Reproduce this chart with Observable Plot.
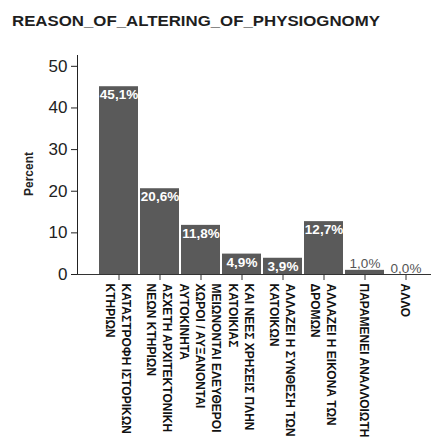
<!DOCTYPE html>
<html><head><meta charset="utf-8">
<script src="https://cdn.jsdelivr.net/npm/d3@7"></script>
<script src="https://cdn.jsdelivr.net/npm/@observablehq/plot@0.6"></script>
<style>
body{margin:0;background:#fff;width:438px;height:442px;overflow:hidden;position:relative;}
#title{position:absolute;left:12px;top:13px;font:bold 14.5px "Liberation Sans",Arial,sans-serif;color:#1e1e1e;white-space:nowrap;transform:scaleX(1.16);transform-origin:0 0;}
#chart{position:absolute;left:0;top:40px;}
#ylabel{position:absolute;left:29px;top:174px;font:bold 12px "Liberation Sans",Arial,sans-serif;color:#222;white-space:nowrap;transform:translate(-50%,-50%) rotate(-90deg);}
</style></head><body>
<div id="title">REASON_OF_ALTERING_OF_PHYSIOGNOMY</div>
<div id="chart"></div>
<div id="ylabel"></div>
<script>
const categories = [
  "ΚΑΤΑΣΤΡΟΦΗ ΙΣΤΟΡΙΚΩΝ\nΚΤΗΡΙΩΝ",
  "ΑΣΧΕΤΗ ΑΡΧΙΤΕΚΤΟΝΙΚΗ\nΝΕΩΝ ΚΤΗΡΙΩΝ",
  "ΜΕΙΩΝΟΝΤΑΙ ΕΛΕΥΘΕΡΟΙ\nΧΩΡΟΙ / ΑΥΞΑΝΟΝΤΑΙ\nΑΥΤΟΚΙΝΗΤΑ",
  "ΚΑΙ ΝΕΕΣ ΧΡΗΣΕΙΣ ΠΛΗΝ\nΚΑΤΟΙΚΙΑΣ",
  "ΑΛΛΑΖΕΙ Η ΣΥΝΘΕΣΗ ΤΩΝ\nΚΑΤΟΙΚΩΝ",
  "ΑΛΛΑΖΕΙ Η ΕΙΚΟΝΑ ΤΩΝ\nΔΡΟΜΩΝ",
  "ΠΑΡΑΜΕΝΕΙ ΑΝΑΛΛΟΙΩΤΗ",
  "ΑΛΛΟ"
];
const percents = [45.1, 20.6, 11.8, 4.9, 3.9, 12.7, 1.0, 0.0];
const yTicks = [0, 10, 20, 30, 40, 50];
const yLabel = "Percent";

document.getElementById("ylabel").textContent = yLabel;

const data = categories.map((c, i) => ({
  cat: c,
  value: percents[i],
  text: percents[i].toFixed(1).replace(".", ",") + "%"
}));
const inside = data.filter(d => d.value >= 3);
const outside = data.filter(d => d.value < 3);

const chart = Plot.plot({
  width: 438,
  height: 402,
  marginTop: 15,
  marginLeft: 77,
  marginRight: 7,
  marginBottom: 168,
  style: {fontFamily: "'Liberation Sans', Arial, sans-serif", fontSize: "17px", color: "#222", background: "#fff"},
  x: {domain: categories, range: [95, 428.5], paddingInner: 0.045, paddingOuter: 0, axis: null},
  y: {domain: [0, 52.6], ticks: yTicks, tickSize: 6, tickPadding: 4, line: true, label: null},
  marks: [
    Plot.barY(data, {x: "cat", y: "value", fill: "#5a5a5a"}),
    Plot.ruleY([0], {stroke: "#333"}),
    Plot.axisX({tickSize: 6, tickFormat: () => "", label: null, stroke: "#333"}),
    Plot.text(data, {x: "cat", y: 0, text: "cat", rotate: 90, textAnchor: "start", lineAnchor: "middle",
      dy: 9, fontSize: 12, fontWeight: "bold", lineHeight: 1.33, fill: "#111",
      fontFamily: "'Liberation Sans', Arial, sans-serif"}),
    Plot.text(inside, {x: "cat", y: "value", text: "text", lineAnchor: "top", dy: 3, fill: "#fff",
      fontSize: 13.5, fontWeight: "bold"}),
    Plot.text(outside, {x: "cat", y: "value", text: "text", lineAnchor: "bottom", dy: -2, fill: "#555",
      fontSize: 13.5})
  ]
});
document.getElementById("chart").appendChild(chart);
</script>
</body></html>
